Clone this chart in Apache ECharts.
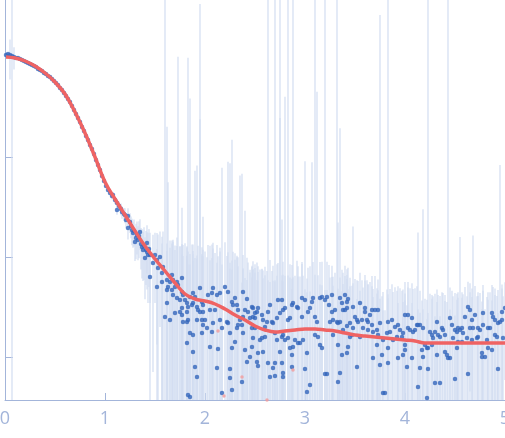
<!DOCTYPE html>
<html><head><meta charset="utf-8">
<script src="https://cdn.jsdelivr.net/npm/echarts@6/dist/echarts.min.js"></script>
<style>html,body{margin:0;padding:0;background:#fff}#c{width:505px;height:438px}</style>
</head><body><div id="c"></div>
<script>
// x ticks (q) and y ticks (log10 intensity, decades)
const xTickLabels = [0, 1, 2, 3, 4, 5];
const yTickValues = [0, 1, 2, 3];
const Y_MIN = -0.43, Y_MAX = 3.57;

// [q, log10(I), sigma(I)]
const pointsLowQ = [[0.01,3.02,4],[0.03,3.03,6],[0.05,3.02,450],[0.07,3.01,5000],[0.09,3.00,250],[0.11,2.99,4],[0.13,2.99,3],[0.15,2.98,3],[0.17,2.97,3],[0.19,2.96,3],[0.21,2.95,3],[0.23,2.94,3],[0.25,2.93,3],[0.27,2.92,3],[0.29,2.91,3],[0.31,2.90,3],[0.33,2.88,3],[0.35,2.87,2],[0.37,2.86,2],[0.39,2.84,2],[0.41,2.83,2],[0.43,2.81,2],[0.45,2.80,2],[0.47,2.78,2],[0.49,2.76,2],[0.51,2.74,2],[0.53,2.72,2],[0.55,2.69,2],[0.57,2.67,2],[0.59,2.64,2],[0.61,2.61,1.5],[0.63,2.58,1.5],[0.65,2.55,1.5],[0.67,2.51,1.5],[0.69,2.47,1.5],[0.71,2.43,1.5],[0.73,2.39,1.2],[0.75,2.35,1.2],[0.77,2.30,1.2],[0.79,2.26,1.2],[0.81,2.21,1],[0.83,2.17,1],[0.85,2.12,1],[0.87,2.08,1],[0.89,2.03,1],[0.91,1.97,1],[0.93,1.92,1],[0.95,1.87,1],[0.97,1.81,1],[0.99,1.76,1.2],[1.01,1.71,1.2],[1.03,1.67,1.5],[1.05,1.64,1.5]];

const pointsKnee = [[1.07,1.61,3],[1.08,1.62,3],[1.10,1.57,3],[1.12,1.54,3.5],[1.12,1.47,3],[1.14,1.51,3.5],[1.16,1.48,4],[1.17,1.45,4],[1.19,1.43,4],[1.20,1.42,4.5],[1.21,1.37,4],[1.23,1.41,5],[1.23,1.29,4.5],[1.25,1.35,5],[1.26,1.31,5],[1.27,1.27,5.5],[1.28,1.24,5],[1.29,1.26,5.5],[1.30,1.15,5],[1.31,1.19,6],[1.32,1.22,6],[1.33,1.17,5.5],[1.34,1.21,6.5],[1.35,1.25,6],[1.36,1.13,6],[1.37,1.10,6.5],[1.38,1.07,6],[1.39,1.11,7],[1.40,0.99,6],[1.41,1.07,6.5],[1.42,1.14,7],[1.42,1.05,6.5],[1.43,1.02,7],[1.44,1.08,7]];

const pointsMid = [[1.45,1.02,7],[1.45,0.80,6],[1.48,0.94,8],[1.50,1.02,7],[1.52,0.97,8],[1.52,0.70,7],[1.53,0.89,9],[1.55,1.00,8],[1.57,0.84,9],[1.57,0.75,8],[1.58,0.90,10],[1.60,0.40,5000],[1.62,0.77,195],[1.62,0.67,9],[1.62,0.54,8],[1.63,0.70,51],[1.65,0.75,9],[1.65,0.37,10],[1.67,0.82,8],[1.67,0.67,9],[1.68,0.62,10],[1.68,0.77,9],[1.70,0.70,8],[1.70,0.44,9],[1.72,0.75,10],[1.72,0.59,9],[1.73,0.72,1000],[1.75,0.57,9],[1.75,0.45,10],[1.77,0.79,25],[1.77,0.42,8],[1.77,0.65,9],[1.77,0.49,10],[1.78,0.62,9],[1.78,0.35,8],[1.80,0.57,10],[1.82,0.54,9],[1.82,0.35,8],[1.82,0.14,9],[1.82,0.45,10],[1.83,0.50,980],[1.83,-0.38,8],[1.83,0.37,9],[1.85,0.60,380],[1.85,0.24,9],[1.85,-0.40,8],[1.87,0.52,10],[1.88,0.64,9],[1.88,0.54,8],[1.88,0.22,9],[1.88,0.05,8],[1.90,0.60,69],[1.90,-0.10,9],[1.92,0.50,79],[1.92,0.37,8],[1.92,-0.20,9],[1.93,0.47,10],[1.95,0.69,234],[1.95,0.45,3390],[1.97,0.55,9],[1.97,0.37,8],[1.97,0.24,9],[1.98,0.52,22],[1.98,0.45,9],[1.98,0.32,8],[2.00,0.37,9],[2.02,0.29,8],[2.03,0.62,9],[2.05,0.47,10],[2.05,0.10,8],[2.07,0.64,9],[2.07,0.25,8],[2.08,0.69,9],[2.08,0.34,10],[2.10,0.47,8],[2.12,0.62,9],[2.12,-0.11,8],[2.13,0.08,9],[2.15,0.64,8],[2.15,0.37,9],[2.17,0.29,76],[2.17,-0.36,8],[2.20,0.70,9],[2.22,0.35,8],[2.23,0.65,85],[2.23,0.34,9],[2.25,0.24,85],[2.25,-0.12,8],[2.25,-0.21,7],[2.27,0.55,145],[2.27,0.09,8],[2.27,-0.33,7],[2.28,0.52,8],[2.30,0.59,7],[2.30,0.15,8],[2.32,0.52,7],[2.32,0.29,8],[2.33,0.47,7],[2.33,0.32,6]];

const pointsHighA = [[2.35,0.37,63],[2.37,0.32,66],[2.37,-0.25,5],[2.38,0.65,6],[2.38,0.40,5],[2.38,0.24,6],[2.40,0.47,26],[2.40,0.07,5],[2.42,0.58,6],[2.42,-0.05,5],[2.43,0.45,6],[2.45,0.39,5],[2.45,0.00,6],[2.47,0.50,5],[2.47,0.29,6],[2.47,0.10,5],[2.48,0.49,6],[2.48,0.40,5],[2.48,0.19,6],[2.50,0.44,5],[2.50,0.39,6],[2.50,0.29,5],[2.52,0.45,6],[2.52,-0.05,5],[2.53,0.49,5],[2.53,0.04,6],[2.53,-0.09,5],[2.55,0.17,6],[2.57,0.42,5],[2.57,0.19,6],[2.58,0.37,5],[2.58,0.05,5],[2.60,0.30,6],[2.60,0.20,5],[2.62,0.35,5],[2.63,0.45,5000],[2.63,-0.06,5],[2.65,0.52,6],[2.65,-0.20,5],[2.67,0.35,5],[2.68,0.34,6],[2.68,-0.11,5],[2.70,0.24,5000],[2.70,-0.06,5],[2.70,-0.19,5],[2.72,0.39,6],[2.72,0.17,5],[2.73,0.57,5],[2.75,0.44,5000],[2.75,0.05,245],[2.77,0.57,20],[2.77,0.20,5],[2.77,-0.06,5],[2.78,0.47,6],[2.78,0.22,5],[2.78,-0.16,5],[2.78,-0.20,4],[2.80,0.49,398],[2.80,0.17,5],[2.83,0.37,5000],[2.83,0.19,5],[2.85,0.39,6],[2.85,0.09,5],[2.87,0.52,5],[2.87,0.02,5],[2.87,-0.10,4],[2.88,0.54,5000],[2.88,0.10,5],[2.90,0.17,5],[2.92,0.50,6],[2.93,0.49,5],[2.93,0.14,5],[2.95,0.14,5],[2.97,0.59,5],[2.97,0.40,6],[2.98,0.17,5],[3.00,0.57,87],[3.00,-0.12,4],[3.02,0.04,5],[3.02,-0.35,4],[3.03,0.45,5],[3.05,0.49,5],[3.05,-0.28,4],[3.07,0.55,85],[3.08,0.59,5],[3.10,0.40,5000],[3.10,0.22,5],[3.12,0.35,447],[3.13,0.20,5],[3.15,0.59,5],[3.15,0.12,4],[3.17,0.60,5],[3.17,0.09,4],[3.20,0.57,5000],[3.20,-0.17,4],[3.22,0.60,5],[3.22,-0.17,4],[3.24,0.52,5]];

const pointsHighB = [[3.25,0.35,4],[3.27,0.62,4],[3.27,0.45,3.5],[3.28,0.37,4],[3.28,0.22,3.5],[3.30,0.47,4],[3.32,0.35,5000],[3.33,0.34,20],[3.33,0.12,3.5],[3.33,-0.25,3],[3.35,0.59,190],[3.35,0.35,4],[3.35,-0.16,3],[3.37,0.54,4],[3.37,0.02,3.5],[3.38,0.47,4],[3.38,0.27,3.5],[3.40,0.62,4],[3.40,0.47,3.5],[3.42,0.55,4],[3.42,0.49,3.5],[3.42,0.31,4],[3.42,0.04,3],[3.43,0.58,4],[3.43,0.10,3.5],[3.45,0.34,4],[3.45,0.20,3.5],[3.47,0.22,3.5],[3.48,0.50,17],[3.48,0.29,3.5],[3.50,0.40,3.5],[3.52,0.37,3.5],[3.52,-0.10,3],[3.53,0.35,3.5],[3.55,0.54,3.5],[3.55,0.20,3],[3.57,0.37,3.5],[3.58,0.29,3],[3.60,0.49,3.5],[3.60,0.45,3],[3.62,0.37,3.5],[3.63,0.35,3],[3.63,0.27,3.5],[3.65,0.42,3],[3.67,0.47,3.5],[3.67,0.32,3],[3.68,0.25,3],[3.68,-0.01,3],[3.70,0.47,3.5],[3.72,0.27,3],[3.72,0.12,3],[3.73,0.47,3],[3.73,0.22,3],[3.75,0.34,2630],[3.75,-0.08,3],[3.77,0.02,3],[3.78,0.17,3],[3.78,-0.36,2.5],[3.80,-0.36,2.5],[3.82,0.24,3],[3.83,0.35,5000],[3.83,0.09,3],[3.83,-0.06,3],[3.85,0.25,3],[3.87,0.37,3],[3.88,0.17,3],[3.90,0.30,3],[3.92,0.20,3],[3.93,0.32,3],[3.93,-0.01,2.5],[3.95,0.27,3],[3.97,0.20,3],[3.98,0.24,3],[3.98,0.02,2.5],[4.00,0.42,3],[4.00,0.12,3],[4.00,0.07,2.5],[4.02,-0.10,2.5],[4.03,0.42,3],[4.03,0.29,3],[4.05,0.27,3],[4.07,0.39,3],[4.07,-0.01,2.5],[4.08,0.25,3],[4.10,0.27,3],[4.12,0.32,3],[4.13,0.32,15.5],[4.13,-0.30,2.5]];

const pointsHighC = [[4.15,0.32,2.5],[4.15,-0.11,2],[4.17,0.07,2.5],[4.18,0.29,28],[4.18,0.00,2],[4.20,0.12,2.5],[4.22,0.09,2.5],[4.22,-0.41,2],[4.23,0.09,5000],[4.23,-0.12,2],[4.25,0.25,2.5],[4.27,0.22,2.5],[4.27,0.12,2.5],[4.28,0.19,2.5],[4.30,0.25,2.5],[4.30,-0.26,2],[4.32,0.35,2.5],[4.32,0.02,2.5],[4.33,0.22,2.5],[4.35,0.20,2.5],[4.35,-0.26,2],[4.37,0.29,2.5],[4.38,0.27,2.5],[4.40,0.22,2.5],[4.40,0.05,2.5],[4.42,0.02,2.5],[4.43,-0.01,5000],[4.45,0.39,2.5],[4.45,-0.01,2],[4.47,0.32,2.5],[4.48,0.19,2.5],[4.50,0.27,2.5],[4.50,-0.22,2],[4.52,0.25,2.5],[4.52,0.09,2.5],[4.53,0.29,2.5],[4.53,0.15,2.5],[4.55,0.27,14],[4.57,0.29,2.5],[4.57,0.15,2.5],[4.58,0.24,2.5],[4.60,0.40,2.5],[4.62,0.19,2.5],[4.63,0.50,2.5],[4.63,-0.17,2],[4.65,0.47,2.5],[4.65,0.29,2.5],[4.67,0.37,2.5],[4.67,0.17,2.5],[4.68,0.29,14.5],[4.70,0.42,2.5],[4.72,0.19,2.5],[4.73,0.20,2.5],[4.73,0.29,2.5],[4.75,0.27,2.5],[4.77,0.04,2.5],[4.77,0.00,2],[4.78,0.44,2.5],[4.78,0.32,2.5],[4.80,0.00,2],[4.82,0.17,2.5],[4.83,0.29,2.5],[4.83,0.09,2.5],[4.85,0.29,2.5],[4.87,0.07,2.5],[4.87,0.44,2.5],[4.88,0.40,2.5],[4.90,0.22,2.5],[4.90,0.37,2.5],[4.92,0.20,2.5],[4.93,0.34,2.5],[4.93,-0.12,2],[4.95,0.35,81],[4.97,0.37,2.5],[4.97,0.45,2.5],[4.98,0.19,2.5],[5.00,0.49,2.5]];

// excluded (pink) points [q, log10(I)]
const excludedPoints = [[2.13,0.26],[2.19,-0.39],[2.37,-0.20],[2.62,-0.43],[2.88,-0.13]];

// fit curve
const fitQ = [0.01,0.1,0.2,0.3,0.4,0.5,0.6,0.7,0.8,0.9,1.0,1.1,1.2,1.3,1.4,1.5,1.6,1.7,1.8,1.9,2.0,2.1,2.2,2.3,2.4,2.5,2.6,2.7,2.8,2.9,3.0,3.1,3.2,3.3,3.4,3.5,3.6,3.7,3.8,3.9,4.0,4.1,4.2,4.3,4.4,4.5,4.6,4.7,4.8,4.9,5.0];
const fitLogI = [3.00,2.99,2.96,2.91,2.84,2.75,2.63,2.45,2.24,2.00,1.75,1.58,1.42,1.26,1.11,0.98,0.86,0.74,0.63,0.58,0.56,0.53,0.48,0.42,0.37,0.31,0.27,0.25,0.26,0.27,0.28,0.28,0.27,0.26,0.24,0.22,0.21,0.20,0.19,0.18,0.17,0.16,0.14,0.14,0.14,0.14,0.14,0.14,0.14,0.14,0.14];

const AXIS_COLOR = '#a3b5da';
const allPoints = [].concat(pointsLowQ, pointsKnee, pointsMid, pointsHighA, pointsHighB, pointsHighC);
const scatterData = allPoints.map(p => [p[0], p[1]]);
const errData = allPoints.map(p => {
  const I = Math.pow(10, p[1]), s = p[2];
  const hi = Math.log10(I + s);
  const lo = (I - s) > 0 ? Math.log10(I - s) : Y_MIN - 1;
  return [p[0], lo, hi];
});
const fitData = fitQ.map((q, i) => [q, fitLogI[i]]);

const chart = echarts.init(document.getElementById('c'), null, {renderer: 'canvas'});
chart.setOption({
  animation: false,
  backgroundColor: '#fff',
  grid: {left: 5, right: 0, top: 0, bottom: 38, containLabel: false, outerBoundsMode: 'none'},
  xAxis: {
    type: 'value', min: 0, max: 5, interval: 1,
    axisLine: {onZero: false, lineStyle: {color: AXIS_COLOR, width: 1}},
    axisTick: {inside: true, length: 7, lineStyle: {color: AXIS_COLOR}},
    axisLabel: {color: AXIS_COLOR, fontSize: 18, margin: 10, fontFamily: 'Open Sans',
      formatter: v => xTickLabels.includes(v) ? String(v) : ''},
    splitLine: {show: false}
  },
  yAxis: {
    type: 'value', min: Y_MIN, max: Y_MAX,
    axisLine: {show: true, onZero: false, lineStyle: {color: AXIS_COLOR, width: 1}},
    axisTick: {show: true, inside: true, length: 8, customValues: yTickValues, lineStyle: {color: AXIS_COLOR}},
    axisLabel: {show: false},
    splitLine: {show: false}
  },
  series: [
    {
      type: 'custom', z: 1, clip: true, silent: true,
      data: errData,
      encode: {x: 0, y: [1, 2]},
      renderItem: (params, api) => {
        const p1 = api.coord([api.value(0), api.value(2)]);
        const p2 = api.coord([api.value(0), api.value(1)]);
        return {type: 'line', shape: {x1: p1[0], y1: p1[1], x2: p2[0], y2: p2[1]},
          style: {stroke: '#d2ddf1', lineWidth: 1.2}};
      }
    },
    {
      type: 'scatter', z: 2, data: scatterData, symbol: 'circle', symbolSize: 4.5,
      itemStyle: {color: '#3566bb'}, silent: true
    },
    {
      type: 'scatter', z: 3, data: excludedPoints, symbol: 'circle', symbolSize: 3.5,
      itemStyle: {color: '#f29a9a'}, silent: true
    },
    {
      type: 'line', z: 4, data: fitData, smooth: 0.4, showSymbol: false,
      lineStyle: {color: '#ef6363', width: 3.5}, silent: true
    }
  ]
});
</script>
</body></html>
